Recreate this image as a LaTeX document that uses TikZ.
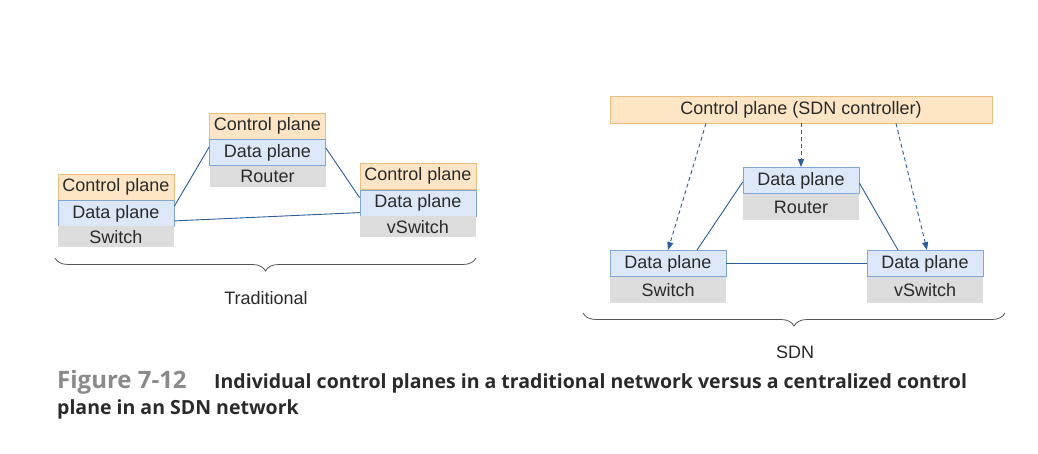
\documentclass[tikz,border=0pt]{standalone}
\usepackage{fontspec}
\setmainfont{Liberation Sans}
\newfontfamily\capfont{Open Sans}
\usetikzlibrary{decorations.pathreplacing,arrows.meta,calc}
\definecolor{ctrlfill}{HTML}{FDE5C6}
\definecolor{ctrldraw}{HTML}{E9BC80}
\definecolor{datafill}{HTML}{DCE8F8}
\definecolor{datadraw}{HTML}{7FA6D6}
\definecolor{grayfill}{HTML}{DCDCDD}
\definecolor{linkcol}{HTML}{2B5E9C}
\definecolor{txt}{HTML}{2A2A2A}
\definecolor{figgray}{HTML}{8A8A8C}
\tikzset{
  box/.style={rectangle, inner sep=0pt, minimum width=116pt, minimum height=26pt, text=txt, font=\fontsize{18}{20}\selectfont},
  ctrlbox/.style={box, fill=ctrlfill, draw=ctrldraw, line width=0.8pt},
  databox/.style={box, fill=datafill, draw=datadraw, line width=0.8pt},
  devbox/.style={box, fill=grayfill, minimum height=21pt},
  link/.style={draw=linkcol, line width=0.9pt},
  ctrllink/.style={draw=linkcol, line width=0.9pt, dash pattern=on 4pt off 3pt, -{Triangle[length=8pt,width=6pt]}},
  bracestyle/.style={draw=txt!80, line width=0.8pt, decorate, decoration={brace, mirror, amplitude=13pt}},
  lbl/.style={text=txt, font=\fontsize{18}{20}\selectfont}
}
\begin{document}
\begin{tikzpicture}[x=1pt,y=-1pt]
\useasboundingbox[fill=white] (0,0) rectangle (1038,454);
% ---------- Traditional ----------
% Router
\node[ctrlbox] (rc) at (267.5,126) {Control plane};
\node[databox] (rd) at (267.5,152.5) {Data plane};
\node[devbox] (rn) at (267.5,176.5) {Router};
% Switch
\node[ctrlbox] (sc) at (116,187) {Control plane};
\node[databox] (sd) at (116,213.5) {Data plane};
\node[devbox] (sn) at (116,237) {Switch};
% vSwitch
\node[ctrlbox] (vc) at (418,176) {Control plane};
\node[databox] (vd) at (418,203) {Data plane};
\node[devbox] (vn) at (418,227) {vSwitch};
% links
\draw[link] ([yshift=-8pt]rd.north west) -- ([yshift=-6pt]sd.north east);
\draw[link] ([yshift=-9pt]rd.north east) -- ([yshift=-8pt]vd.north west);
\draw[link] ([yshift=6pt]sd.south east) -- ([yshift=-23pt]vd.north west);
% brace
\coordinate (tb1) at (55,258);
\coordinate (tb2) at (476,258);
\draw[bracestyle] (tb1) -- (tb2);
\node[lbl] (trad) at (266,298) {Traditional};
% ---------- SDN ----------
\node[ctrlbox, minimum width=382pt, minimum height=27pt] (cc) at (801,109.5) {Control plane (SDN controller)};
\node[databox] (Rd) at (801,180.5) {Data plane};
\node[devbox, minimum height=26pt] (Rn) at (801,207) {Router};
\node[databox] (Sd) at (668,263.5) {Data plane};
\node[devbox, minimum height=26pt] (Sn) at (668,290) {Switch};
\node[databox] (Vd) at (925,263.5) {Data plane};
\node[devbox, minimum height=26pt] (Vn) at (925,290) {vSwitch};
% links
\draw[link] ([yshift=-15pt]Rd.north west) -- ([xshift=29pt]Sd.north);
\draw[link] ([yshift=-16pt]Rd.north east) -- ([xshift=-27pt]Vd.north);
\draw[link] (Sd.east) -- (Vd.west);
% control links
\draw[ctrllink] ([xshift=-95pt]cc.south) -- (Sd.north);
\draw[ctrllink] (cc.south) -- (Rd.north);
\draw[ctrllink] ([xshift=95pt]cc.south) -- ([xshift=2pt]Vd.north);
% brace
\coordinate (sb1) at (583,313);
\coordinate (sb2) at (1005,313);
\draw[bracestyle] (sb1) -- (sb2);
\node[lbl] (sdn) at (795,352) {SDN};
% ---------- Caption ----------
\node[anchor=base west, inner sep=0pt, text=figgray, font=\capfont\bfseries\fontsize{24}{26}\selectfont] (fig) at (57,388) {Figure 7-12};
\node[anchor=base west, inner sep=0pt, text=txt, font=\capfont\bfseries\fontsize{19.5}{22}\selectfont] (cap1) at (214,388) {Individual control planes in a traditional network versus a centralized control};
\node[anchor=base west, inner sep=0pt, text=txt, font=\capfont\bfseries\fontsize{19.5}{22}\selectfont] (cap2) at (57,414) {plane in an SDN network};
\end{tikzpicture}
\end{document}
